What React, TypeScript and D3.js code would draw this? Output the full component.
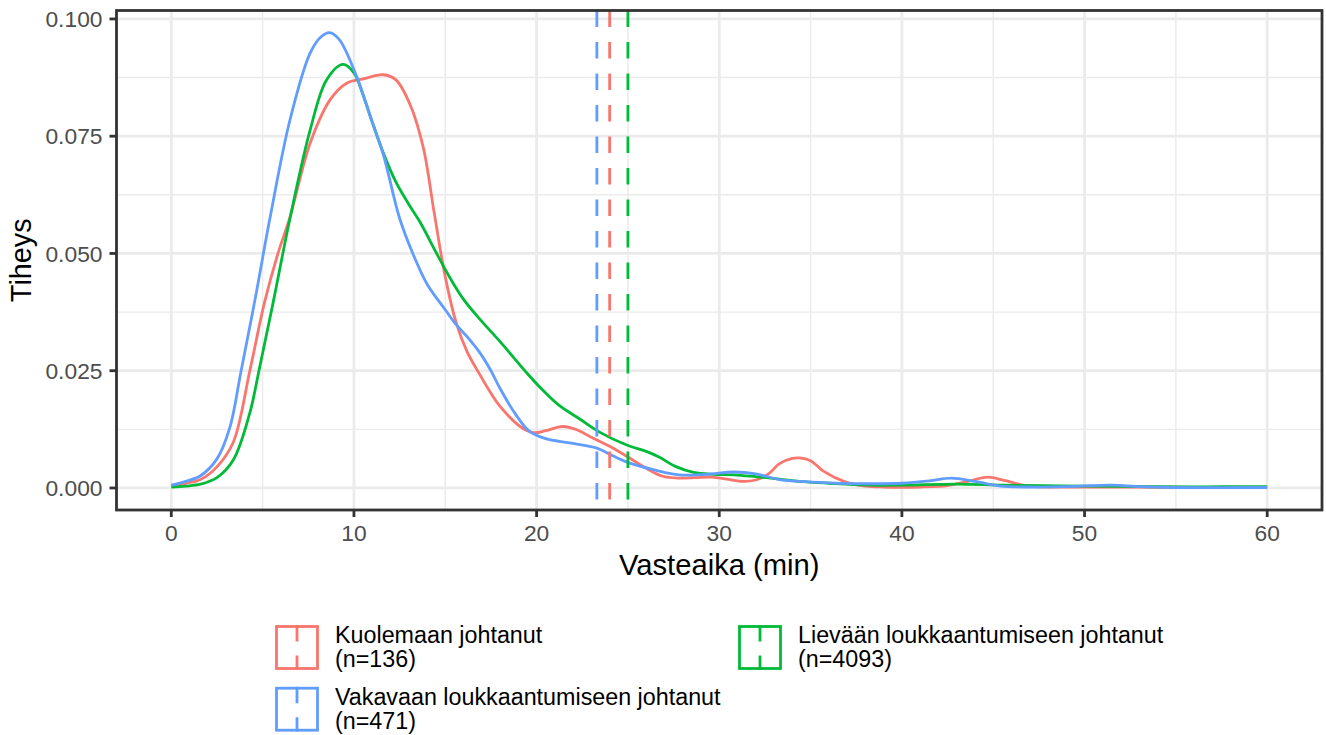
import React from "react";
import * as d3 from "d3";

// density estimates: [vasteaika (min), tiheys]
const kuolemaDensity = [
  [0, 0.0004], [0.8, 0.001], [1.6, 0.0018], [2.5, 0.0045], [3.4, 0.0098], [4.3, 0.025],
  [5.1, 0.0395], [5.8, 0.0495], [6.5, 0.0578], [7.6, 0.0735], [8.7, 0.0828], [9.6, 0.0863],
  [10.5, 0.0872], [11.6, 0.0881], [12.3, 0.087], [13.1, 0.0815], [13.8, 0.0725], [14.4, 0.0585],
  [15.0, 0.045], [15.6, 0.0352], [16.2, 0.029], [16.9, 0.0241], [17.5, 0.0202], [18.0, 0.0174],
  [19.1, 0.0131], [19.8, 0.0118], [20.5, 0.0122], [21.4, 0.0131], [22.2, 0.0124], [23.0, 0.0108],
  [24.0, 0.0089], [25.0, 0.0066], [26.0, 0.0042], [26.9, 0.0025], [27.8, 0.0021], [28.7, 0.0022],
  [29.6, 0.0023], [30.4, 0.0019], [31.3, 0.0014], [32.0, 0.0017], [32.7, 0.003], [33.3, 0.0052],
  [34.0, 0.0063], [34.4, 0.0064], [35.0, 0.0058], [35.7, 0.0036], [36.9, 0.0013], [38.0, 0.0004],
  [39.0, 0.0002], [41.0, 0.0002], [42.5, 0.0005], [43.5, 0.0013], [44.7, 0.0023], [45.6, 0.0016],
  [46.9, 0.0004], [48.0, 0.0002], [52.0, 0.0002], [56.0, 0.0001], [60.0, 0.0001],
];

const lievaDensity = [
  [0, 0.0002], [0.8, 0.0004], [1.6, 0.0008], [2.5, 0.0022], [3.4, 0.006], [4.3, 0.016],
  [4.8, 0.025], [5.6, 0.04], [6.5, 0.0575], [7.6, 0.0763], [8.5, 0.087], [9.4, 0.0903],
  [10.0, 0.0885], [10.5, 0.0838], [11.0, 0.078], [11.6, 0.0715], [12.3, 0.0652], [13.0, 0.0605],
  [13.6, 0.0568], [14.5, 0.0502], [15.2, 0.0452], [16.0, 0.0402], [17.0, 0.0355], [18.0, 0.0312],
  [18.7, 0.028], [19.4, 0.0248], [20.2, 0.0214], [21.2, 0.0177], [22.4, 0.0146], [23.5, 0.0118],
  [24.9, 0.0092], [26.0, 0.0078], [26.7, 0.0066], [27.6, 0.0046], [28.6, 0.0033], [29.7, 0.0029],
  [30.8, 0.0028], [32.0, 0.0024], [33.3, 0.0019], [34.4, 0.0014], [36.0, 0.001], [38.1, 0.0006],
  [40.0, 0.0006], [43.0, 0.0008], [45.5, 0.0006], [47.8, 0.0005], [50.0, 0.0004], [53.0, 0.0003],
  [56.0, 0.0002], [58.5, 0.0003], [60.0, 0.0003],
];

const vakavaDensity = [
  [0, 0.0006], [0.8, 0.0014], [1.6, 0.0026], [2.5, 0.0062], [3.2, 0.0128], [3.8, 0.0245],
  [4.6, 0.0405], [5.4, 0.0575], [6.5, 0.0785], [7.6, 0.0927], [8.2, 0.0962], [8.66, 0.0971],
  [9.2, 0.0956], [10.15, 0.0877], [10.9, 0.0792], [11.6, 0.0712], [12.5, 0.0575], [13.2, 0.0502],
  [14.0, 0.0435], [15.0, 0.038], [15.6, 0.0348], [16.3, 0.0318], [16.9, 0.0288], [17.5, 0.025],
  [18.0, 0.0212], [18.8, 0.016], [19.6, 0.0121], [20.5, 0.0105], [21.8, 0.0096], [23.3, 0.0085],
  [24.2, 0.0068], [25.1, 0.0053], [26.5, 0.0038], [27.8, 0.0028], [29.3, 0.0029], [30.8, 0.0034],
  [32.0, 0.003], [33.3, 0.0018], [34.4, 0.0014], [36.0, 0.0011], [38.1, 0.0009], [40.0, 0.001],
  [41.5, 0.0015], [42.7, 0.0021], [44.0, 0.0014], [45.4, 0.0004], [47.0, 0.0002], [49.0, 0.0003],
  [51.5, 0.0006], [53.0, 0.0003], [55.0, 0.0001], [60.0, 0.0001],
];

// median response times (dashed vertical lines)
const medians = [24.0, 25.0, 23.3];

const groupNames = ["Kuolemaan johtanut", "Lievään loukkaantumiseen johtanut", "Vakavaan loukkaantumiseen johtanut"];
const groupCounts = ["(n=136)", "(n=4093)", "(n=471)"];
const groupColors = ["#F8766D", "#00BA38", "#619CFF"];
const densities = [kuolemaDensity, lievaDensity, vakavaDensity];

const xTicks = [0, 10, 20, 30, 40, 50, 60];
const xMinor = [5, 15, 25, 35, 45, 55];
const yTicks = [0, 0.025, 0.05, 0.075, 0.1];
const yMinor = [0.0125, 0.0375, 0.0625, 0.0875];

const W = 1326;
const H = 735;
const panel = { left: 116.5, right: 1322, top: 10.5, bottom: 510 };
const font = "'Liberation Sans', Arial, sans-serif";

// legend slots: [column, row]
const legendSlots = [[0, 0], [1, 0], [0, 1]];

export default function App() {
  const x = d3.scaleLinear().domain([-3, 63]).range([panel.left, panel.right]);
  const y = d3.scaleLinear().domain([-0.0047, 0.1018]).range([panel.bottom, panel.top]);

  const line = d3
    .line()
    .x(d => x(d[0]))
    .y(d => y(Math.max(0, d[1])))
    .curve(d3.curveCatmullRom.alpha(0.5));

  return (
    <div style={{ position: "absolute", top: 0, left: 0 }}>
      <svg width={W} height={H} style={{ display: "block", background: "#fff" }} fontFamily={font}>
        <rect x={panel.left} y={panel.top} width={panel.right - panel.left} height={panel.bottom - panel.top} fill="#fff" />

        {/* grid */}
        {xMinor.map(t => (
          <line key={"xm" + t} x1={x(t)} x2={x(t)} y1={panel.top} y2={panel.bottom} stroke="#EBEBEB" strokeWidth={1.4} />
        ))}
        {yMinor.map(t => (
          <line key={"ym" + t} x1={panel.left} x2={panel.right} y1={y(t)} y2={y(t)} stroke="#EBEBEB" strokeWidth={1.4} />
        ))}
        {xTicks.map(t => (
          <line key={"xg" + t} x1={x(t)} x2={x(t)} y1={panel.top} y2={panel.bottom} stroke="#EBEBEB" strokeWidth={2.8} />
        ))}
        {yTicks.map(t => (
          <line key={"yg" + t} x1={panel.left} x2={panel.right} y1={y(t)} y2={y(t)} stroke="#EBEBEB" strokeWidth={2.8} />
        ))}

        {/* densities */}
        {densities.map((d, i) => (
          <path key={"d" + i} d={line(d)} fill="none" stroke={groupColors[i]} strokeWidth={2.8} />
        ))}

        {/* medians */}
        {medians.map((m, i) => (
          <line
            key={"m" + i}
            x1={x(m)}
            x2={x(m)}
            y1={panel.top}
            y2={panel.bottom}
            stroke={groupColors[i]}
            strokeWidth={2.8}
            strokeDasharray="16.5 15"
          />
        ))}

        {/* panel border */}
        <rect
          x={panel.left}
          y={panel.top}
          width={panel.right - panel.left}
          height={panel.bottom - panel.top}
          fill="none"
          stroke="#333333"
          strokeWidth={2.8}
        />

        {/* x axis */}
        {xTicks.map(t => (
          <g key={"xt" + t}>
            <line x1={x(t)} x2={x(t)} y1={panel.bottom} y2={panel.bottom + 7} stroke="#333333" strokeWidth={2.8} />
            <text x={x(t)} y={541} textAnchor="middle" fontSize={22.8} fill="#4D4D4D">
              {t}
            </text>
          </g>
        ))}
        <text x={(panel.left + panel.right) / 2} y={575} textAnchor="middle" fontSize={29.2} fill="#000">
          Vasteaika (min)
        </text>

        {/* y axis */}
        {yTicks.map(t => (
          <g key={"yt" + t}>
            <line x1={panel.left - 7} x2={panel.left} y1={y(t)} y2={y(t)} stroke="#333333" strokeWidth={2.8} />
            <text x={102.5} y={y(t) + 8.2} textAnchor="end" fontSize={22.8} fill="#4D4D4D">
              {d3.format(".3f")(t)}
            </text>
          </g>
        ))}
        <text
          transform={`translate(31, ${(panel.top + panel.bottom) / 2}) rotate(-90)`}
          textAnchor="middle"
          fontSize={28.8}
          fill="#000"
        >
          Tiheys
        </text>

        {/* legend */}
        {groupNames.map((name, i) => {
          const [col, row] = legendSlots[i];
          const kx = col === 0 ? 276.5 : 739.5;
          const ky = 626.5 + row * 61.7;
          const cx = kx + 20.5;
          return (
            <g key={"lg" + i}>
              <rect x={kx} y={ky} width={41} height={42} fill="#fff" stroke={groupColors[i]} strokeWidth={2.8} />
              <line x1={cx} x2={cx} y1={ky - 1.4} y2={ky + 43.4} stroke={groupColors[i]} strokeWidth={2.8} strokeDasharray="16.5 14" />
              <text x={kx + 58.5} y={ky + 16.8} fontSize={23.3} fill="#000">
                {name}
              </text>
              <text x={kx + 58.5} y={ky + 40.3} fontSize={23.3} fill="#000">
                {groupCounts[i]}
              </text>
            </g>
          );
        })}
      </svg>
    </div>
  );
}
